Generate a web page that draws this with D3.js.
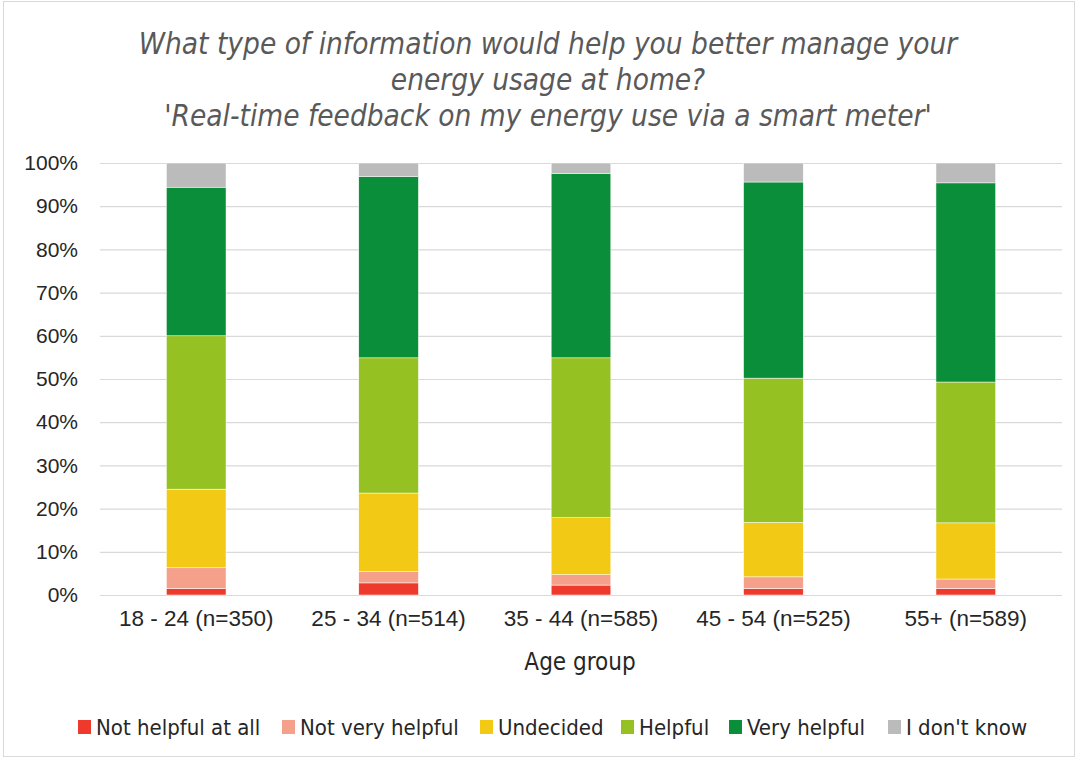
<!DOCTYPE html>
<html>
<head>
<meta charset="utf-8">
<script src="https://cdn.jsdelivr.net/npm/d3@7"></script>
<style>
  body { margin: 0; background: #fff; }
  svg { display: block; font-family: "DejaVu Sans Condensed", "Roboto", sans-serif; }
</style>
</head>
<body>
<div id="chart"></div>
<script>
// data (percent of respondents)
var ageGroups = ["18 - 24 (n=350)", "25 - 34 (n=514)", "35 - 44 (n=585)", "45 - 54 (n=525)", "55+ (n=589)"];
var answers = ["Not helpful at all", "Not very helpful", "Undecided", "Helpful", "Very helpful", "I don't know"];
var notHelpfulAtAll = [1.5, 2.8, 2.3, 1.5, 1.5];
var notVeryHelpful  = [4.8, 2.6, 2.4, 2.7, 2.2];
var undecided       = [18.2, 18.2, 13.2, 12.6, 13.0];
var helpful         = [35.5, 31.3, 37.0, 33.4, 32.6];
var veryHelpful     = [34.4, 42.0, 42.7, 45.4, 46.1];
var dontKnow        = [5.6, 3.1, 2.4, 4.4, 4.6];
var colors = ["#ee3a2c", "#f4a08a", "#f2c914", "#96c123", "#0a8e3a", "#bbbbbb"];
var yTicks = [0, 10, 20, 30, 40, 50, 60, 70, 80, 90, 100];

function drawChart() {

var svg = d3.select("#chart").append("svg").attr("width", 1079).attr("height", 761),
    margin = {top: 163, right: 17, bottom: 166, left: 100},
    width = 1079 - margin.left - margin.right,
    height = 761 - margin.top - margin.bottom;

svg.append("rect")
    .attr("x", 3.5).attr("y", 1.5)
    .attr("width", 1071).attr("height", 755)
    .attr("fill", "#fff")
    .attr("stroke", "#d9d9d9");

var series = [notHelpfulAtAll, notVeryHelpful, undecided, helpful, veryHelpful, dontKnow];
var rows = ageGroups.map(function(a, i) {
  var r = {group: a};
  answers.forEach(function(k, j) { r[k] = series[j][i]; });
  return r;
});

var stack = d3.stack().keys(answers)(rows);

var x = d3.scaleBand().domain(ageGroups).range([0, width]).paddingInner(0.69).paddingOuter(0.345),
    y = d3.scaleLinear().domain([0, 100]).range([height, 0]),
    z = d3.scaleOrdinal().domain(answers).range(colors);

var g = svg.append("g").attr("transform", "translate(" + margin.left + "," + margin.top + ")");

// gridlines
g.append("g")
  .selectAll("line")
  .data(yTicks)
  .enter().append("line")
    .attr("x1", 0).attr("x2", width)
    .attr("y1", function(d) { return y(d) + 0.5; })
    .attr("y2", function(d) { return y(d) + 0.5; })
    .attr("stroke", "#d9d9d9")
    .attr("stroke-width", 1.2);

// y labels
var yAxis = g.append("g")
    .call(d3.axisLeft(y).tickValues(yTicks).tickSize(0).tickPadding(22).tickFormat(function(d) { return d + "%"; }));
yAxis.select(".domain").remove();
yAxis.selectAll("text")
    .attr("fill", "#262626")
    .style("font-size", "21px");

// bars
g.selectAll(".layer")
  .data(stack)
  .enter().append("g")
    .attr("class", "layer")
    .attr("fill", function(d) { return z(d.key); })
  .selectAll("rect")
  .data(function(d) { return d; })
  .enter().append("rect")
    .attr("x", function(d) { return x(d.data.group); })
    .attr("y", function(d) { return y(d[1]); })
    .attr("width", x.bandwidth())
    .attr("height", function(d) { return y(d[0]) - y(d[1]); })
    .attr("stroke", "#fff")
    .attr("stroke-width", 0.5);

// x labels
var xAxis = g.append("g")
    .attr("transform", "translate(0," + height + ")")
    .call(d3.axisBottom(x).tickSize(0).tickPadding(15));
xAxis.select(".domain").remove();
xAxis.selectAll("text")
    .attr("fill", "#262626")
    .style("font-size", "22.5px");

svg.append("text")
    .attr("x", 580).attr("y", 670)
    .attr("text-anchor", "middle")
    .attr("fill", "#262626")
    .style("font-size", "24px")
    .text("Age group");

// title
var title = ["What type of information would help you better manage your",
             "energy usage at home?",
             "'Real-time feedback on my energy use via a smart meter'"];
svg.append("g").selectAll("text")
  .data(title)
  .enter().append("text")
    .attr("x", 548)
    .attr("y", function(d, i) { return 54 + i * 36; })
    .attr("text-anchor", "middle")
    .attr("fill", "#595959")
    .style("font-size", "29.5px")
    .style("font-style", "italic")
    .text(function(d) { return d; });

// legend
var legendX = [78, 282, 480, 621, 729, 888];
var legend = svg.append("g").selectAll("g")
  .data(answers)
  .enter().append("g")
    .attr("transform", function(d, i) { return "translate(" + legendX[i] + ",720)"; });
legend.append("rect")
    .attr("width", 13).attr("height", 14)
    .attr("fill", function(d) { return z(d); });
legend.append("text")
    .attr("x", 18).attr("y", 15)
    .attr("fill", "#262626")
    .style("font-size", "22px")
    .text(function(d) { return d; });

}

drawChart();
</script>
</body>
</html>
